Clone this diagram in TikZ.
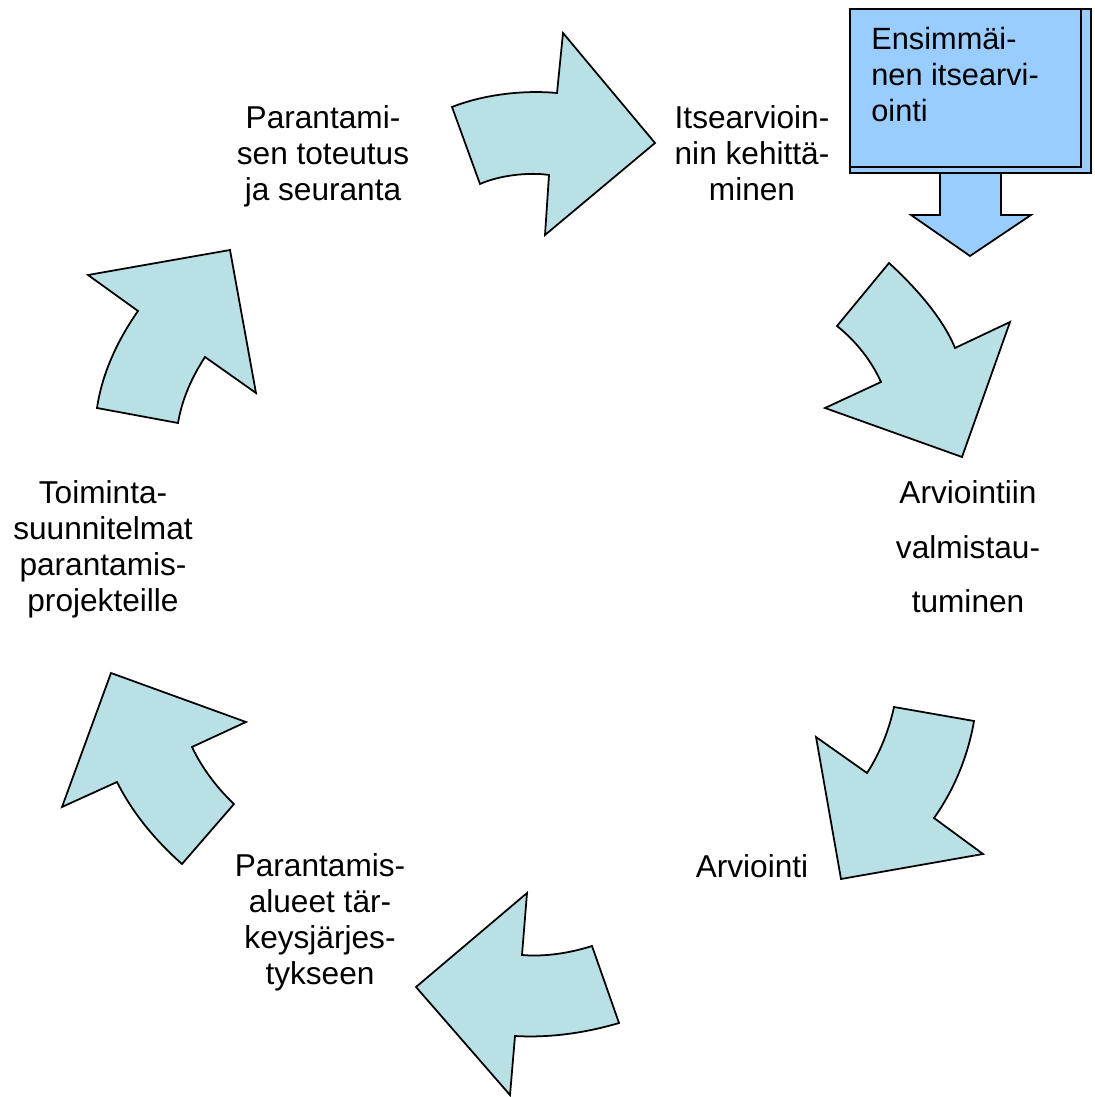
\documentclass[tikz,border=0pt]{standalone}
\usepackage{fontspec}
\setmainfont{Liberation Sans}
\definecolor{cyclefill}{RGB}{185,224,229}
\definecolor{startblue}{RGB}{153,204,255}

\begin{document}
\begin{tikzpicture}[x=0.02cm,y=-0.02cm,line join=miter,
  cyclearrow/.style={draw=black,fill=cyclefill,line width=1pt},
  startshape/.style={draw=black,fill=startblue,line width=1pt},
  steplabel/.style={font=\fontsize{18}{20.5}\selectfont,align=center,inner sep=0pt,anchor=north},
  widelabel/.style={font=\fontsize{18}{31.2}\selectfont,align=center,inner sep=0pt,anchor=north}]
\useasboundingbox (0,0) rectangle (1094,1097);
% the six curved arrows of the cycle
\draw[cyclearrow] (452,107) .. controls (485,94) and (525,90) .. (557,93) -- (563,33) -- (655,143) -- (545,235) -- (549,175) .. controls (530,172) and (500,175) .. (480,184) -- cycle;
\draw[cyclearrow] (889,263) .. controls (912,284) and (942,316) .. (955,348) -- (1010,322) -- (962,457) -- (825,408) -- (881,382) .. controls (872,362) and (857,342) .. (837,326) -- cycle;
\draw[cyclearrow] (974,721) .. controls (968,756) and (954,790) .. (934,818) -- (983,854) -- (841,879) -- (816,737) -- (867,773) .. controls (880,753) and (889,730) .. (894,707) -- cycle;
\draw[cyclearrow] (619,1023) .. controls (585,1033) and (550,1038) .. (515,1036) -- (510,1095) -- (416,987) -- (527,893) -- (522,955) .. controls (545,957) and (570,953) .. (592,946) -- cycle;
\draw[cyclearrow] (182,864) .. controls (157,842) and (133,814) .. (117,782) -- (62,807) -- (111,673) -- (246,722) -- (192,747) .. controls (202,768) and (217,788) .. (234,804) -- cycle;
\draw[cyclearrow] (97,408) .. controls (102,374) and (117,341) .. (138,311) -- (88,275) -- (230,250) -- (256,393) -- (205,357) .. controls (192,377) and (182,399) .. (178,423) -- cycle;
% first self-assessment box with its down arrow
\draw[startshape] (940,167) -- (940,215) -- (911,215) -- (970,256) -- (1031,215) -- (1001,215) -- (1001,167) -- cycle;
\draw[startshape] (850,9) rectangle (1091,173);
\draw[startshape] (850,9) rectangle (1081,167);
\node[font=\fontsize{17.5}{20.5}\selectfont,align=left,inner sep=0pt,anchor=north west] (first) at (871,27) {Ensimmäi-\\nen itsearvi-\\ointi};
% step labels
\node[steplabel] (develop) at (752,105) {Itsearvioin-\\nin kehittä-\\minen};
\node[widelabel] (prepare) at (968,480) {Arviointiin\\valmistau-\\tuminen};
\node[steplabel] (assess) at (752,854) {Arviointi};
\node[steplabel] (priority) at (320,853) {Parantamis-\\alueet tär-\\keysjärjes-\\tykseen};
\node[steplabel] (plans) at (103,480) {Toiminta-\\suunnitelmat\\parantamis-\\projekteille};
\node[steplabel] (followup) at (323,105) {Parantami-\\sen toteutus\\ja seuranta};
\end{tikzpicture}
\end{document}
